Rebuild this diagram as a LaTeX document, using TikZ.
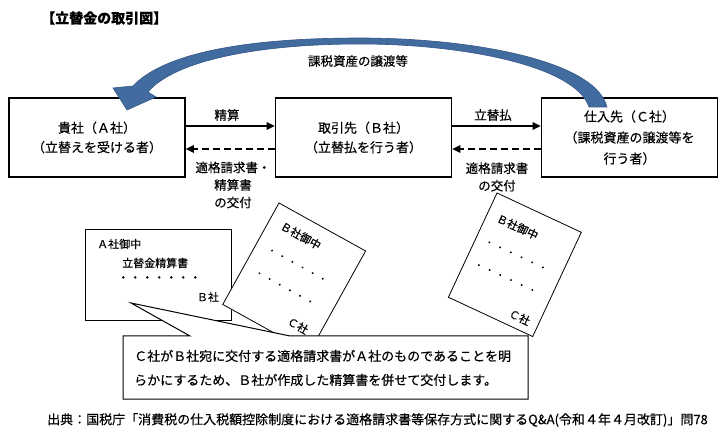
\documentclass[tikz,border=0pt]{standalone}
\usepackage{fontspec}
\setmainfont{Noto Sans CJK JP}[FakeBold=0.35]
\usetikzlibrary{arrows.meta}
\definecolor{arrowblue}{RGB}{66,107,160}
\definecolor{arrowedge}{RGB}{52,86,135}
\begin{document}
\begin{tikzpicture}[x=1pt,y=-1pt,
  party/.style={draw,line width=1.6pt,minimum width=176pt,minimum height=79pt,inner sep=2pt,align=center,font=\fontsize{13}{19.5}\selectfont,fill=white},
  lbl/.style={font=\fontsize{12.5}{17.5}\selectfont,align=center,inner sep=0pt},
  flow/.style={line width=1.6pt,-{Triangle[length=8pt,width=7.5pt]}},
  dflow/.style={flow,dash pattern=on 7pt off 4pt},
  paper/.style={draw,line width=0.8pt,fill=white},
  doctext/.style={font=\fontsize{11}{13}\selectfont,inner sep=0pt},
  dots/.style={font=\fontsize{12}{13}\selectfont,inner sep=0pt,anchor=west},
  notetext/.style={font=\fontsize{13}{15}\selectfont,inner sep=0pt,anchor=west},
]
\useasboundingbox (0,0) rectangle (725,443);
\fill[white] (0,0) rectangle (725,443);

% title
\node[font=\fontsize{14}{16}\selectfont\bfseries,anchor=west,inner sep=0pt] (title) at (41,18) {【立替金の取引図】};

% parties
\node[party] (A) at (97,137.5) {貴社（Ａ社）\\（立替えを受ける者）};
\node[party] (B) at (363.5,137.5) {取引先（Ｂ社）\\（立替払を行う者）};
\node[party,font=\fontsize{13}{21}\selectfont] (C) at (629.5,137.5) {仕入先（Ｃ社）\\（課税資産の譲渡等を\\行う者）};

% flows
\draw[flow] ([yshift=11.5pt]A.east) -- ([yshift=11.5pt]B.west);
\draw[dflow] ([yshift=-11.5pt]B.west) -- ([yshift=-11.5pt]A.east);
\draw[flow] ([yshift=11.5pt]B.east) -- ([yshift=11.5pt]C.west);
\draw[dflow] ([yshift=-11.5pt]C.west) -- ([yshift=-11.5pt]B.east);

\node[lbl] (l1) at (227,115) {精算};
\node[lbl] (l2) at (233,185) {適格請求書・\\精算書\\の交付};
\node[lbl] (l3) at (493,115) {立替払};
\node[lbl] (l4) at (497,177) {適格請求書\\の交付};

% big curved arrow
\filldraw[fill=arrowblue,draw=arrowedge,line width=0.6pt]
  (607,107) .. controls (595,60) and (470,38) .. (360,38)
  .. controls (250,38) and (165,52) .. (133,86)
  -- (113,88) -- (127,110) -- (156,97) -- (148,92)
  .. controls (175,60) and (260,44) .. (360,44)
  .. controls (460,44) and (575,65) .. (589,107) -- cycle;
\node[lbl] (l5) at (358,61) {課税資産の譲渡等};

% document A (settlement statement)
\draw[paper] (85,229) rectangle (231,320);
\node[doctext,anchor=west] (a1) at (97,244) {Ａ社御中};
\node[doctext,anchor=west] (a2) at (122,263) {立替金精算書};
\node[dots] (a3) at (117,279) {・・・・・・・};
\node[doctext] (a4) at (208,297) {Ｂ社};

% document B (invoice copy)
\begin{scope}[shift={(279,203)},rotate=-29]
  \draw[paper] (0,0) rectangle (99,116);
  \node[doctext,transform shape] (b1) at (35,18) {Ｂ社御中};
  \foreach \k in {0,...,5} {
    \fill (17+11.6*\k,45) circle (1.1pt);
    \fill (17+11.6*\k,71) circle (1.1pt);
  }
  \node[doctext,transform shape] (b4) at (76,98) {Ｃ社};
\end{scope}

% document C (invoice)
\begin{scope}[shift={(497,193)},rotate=-25]
  \draw[paper] (0,0) rectangle (93,115);
  \node[doctext,transform shape] (c1) at (33,22) {Ｂ社御中};
  \foreach \k in {0,...,5} {
    \fill (14+11.8*\k,48) circle (1.1pt);
    \fill (14+11.8*\k,73) circle (1.1pt);
  }
  \node[doctext,transform shape] (c4) at (73,103) {Ｃ社};
\end{scope}

% callout
\filldraw[fill=white,draw=black,line width=1pt,line join=miter]
  (123,336) -- (190,336) -- (131,303) -- (290,336) -- (528,336)
  -- (528,399) -- (123,399) -- cycle;
\node[notetext] (n1) at (134,356) {Ｃ社がＢ社宛に交付する適格請求書がＡ社のものであることを明};
\node[notetext] (n2) at (134,380) {らかにするため、Ｂ社が作成した精算書を併せて交付します。};

% source
\node[font=\fontsize{13}{15}\selectfont,anchor=west,inner sep=0pt] (src) at (47,420) {出典：国税庁「消費税の仕入税額控除制度における適格請求書等保存方式に関するQ\&A(令和４年４月改訂)」問78};
\end{tikzpicture}
\end{document}
